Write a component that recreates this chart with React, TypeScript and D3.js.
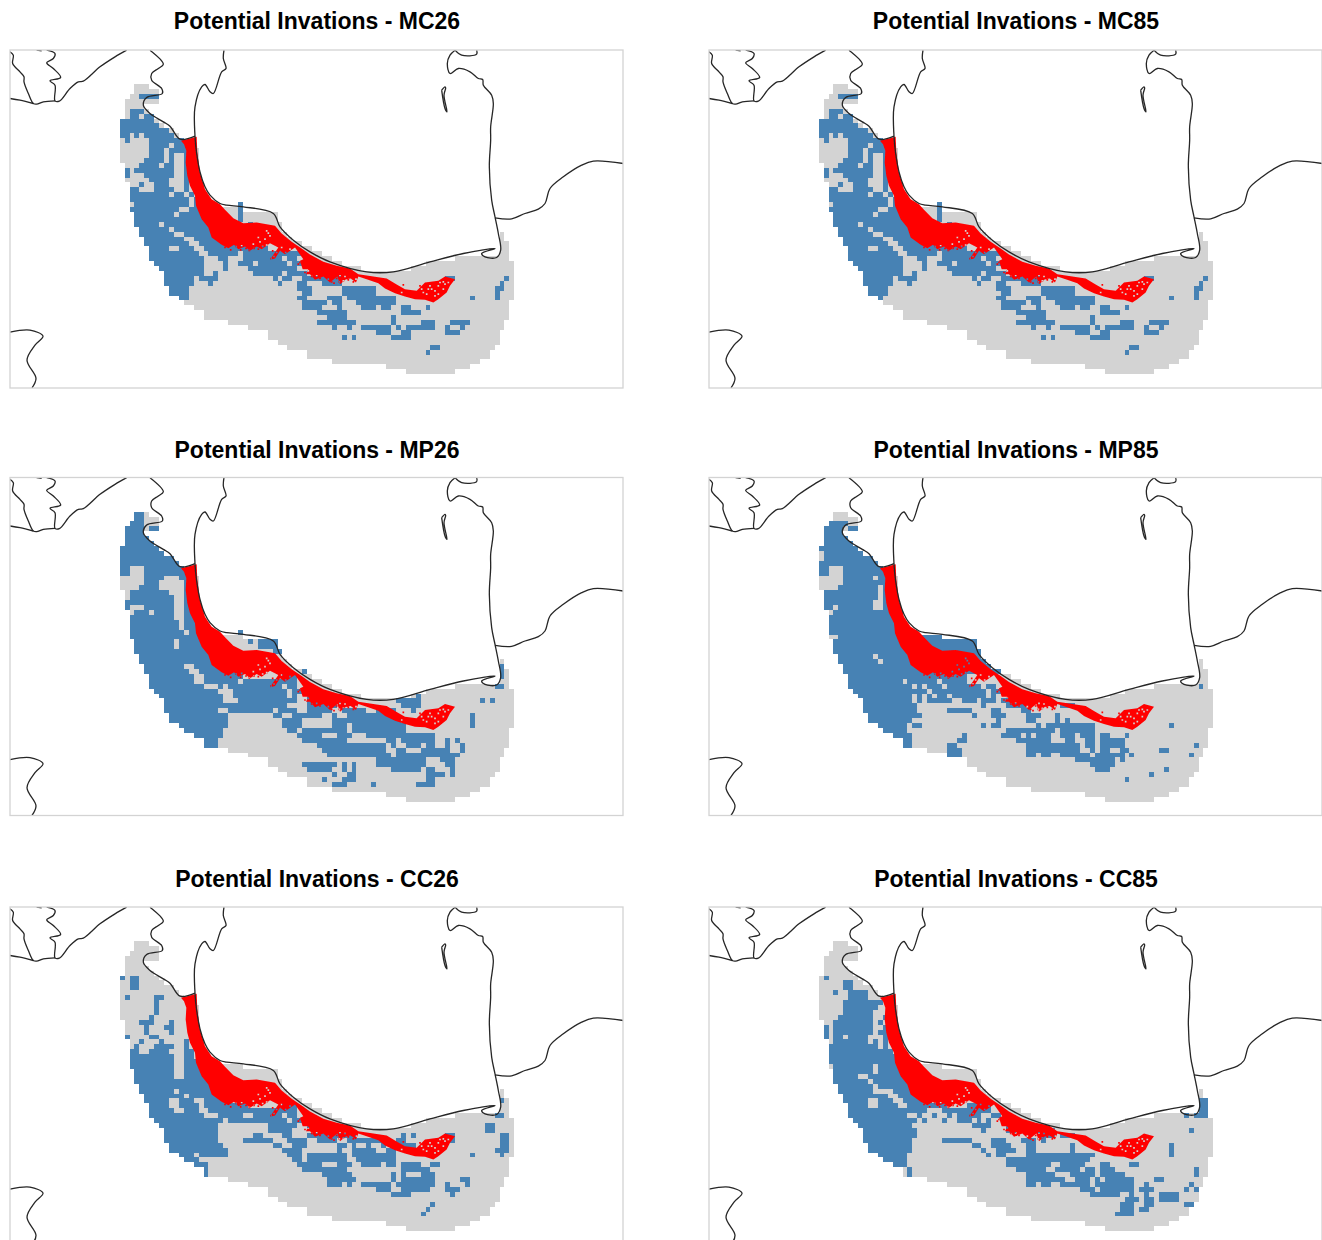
import React from "react";
import * as d3 from "d3";

const titles = ["MC26", "MC85", "MP26", "MP85", "CC26", "CC85"];

const graySpans = ["0:3-6","1:3-8","2:2-8","3:1-8","4:1-5","5:1-6","6:1-7","7:0-8","8:0-9","9:0-11","10:0-12","11:0-13","12:0-15","13:0-16","14:0-16","15:0-16","16:1-16","17:1-16","18:1-16","19:1-16","20:2-17","21:2-17","22:2-17","23:2-18","24:2-20","25:2-25","26:3-32","27:3-32","28:3-33","29:4-33","30:4-34 77-78","31:5-35 77-78","32:5-37 77-79","33:6-39 77-79","34:6-41 77-79","35:6-43 68-79","36:7-45 62-80","37:8-49 59-80","38:9-80","39:9-80","40:9-80","41:10-80","42:10-80","43:12-80","44:13-79","45:15-79","46:17-79","47:17-79","48:22-78","49:26-78","50:30-77","51:30-77","52:32-77","53:34-76","54:38-75","55:38-75","56:43-73","57:54-71","58:58-68"];

const blueMC85 = ["2:4-8","5:2-5","6:2-4 5-7","7:0-7","8:0-8","9:0-10","10:0-2 3-4 5-11","11:1-2 6-13","12:6-10 11-14","13:6-9 10-14","14:6-9 10-11 13-14","15:5-9 10-11 13-14","16:4-8 9-11 13-14","17:1-2 3-11 13-14","18:1-2 5-11 13-14","19:6-10 13-14","20:4-5 7-10 13-14","21:2-4 7-11 13-14","22:2-10 11-13 14-15","23:2-14 15-16","24:3-14 15-17 24-25","25:2-12 14-17 24-25","26:3-11 12-17 24-25","27:3-18 24-25","28:3-8 9-18 26-27","29:4-10 11-19","30:4-11 13-20","31:5-13 15-22","32:5-14 16-24","33:6-10 12-15 17-30","34:6-16 18-24 25-37","35:6-17 20-22 25-33 34-36","36:7-17 21-22 24-27 28-34 35-37","37:8-17 21-22 26-36","38:9-17 19-20 27-33 34-38","39:9-15 16-20 31-32 33-35 37-45 66-68 78-79","40:9-15 18-19 32-33 36-38 41-45 77-78","41:10-14 36-39 45-52 76-78","42:10-14 37-39 45-52 76-77","43:12-13 36-38 42-45 46-56 71-72 76-77","44:37-42 43-45 48-56","45:37-41 44-45 49-52 53-55 57-59 62-63","46:40-46 57-61","47:42-46 55-56","48:40-48 55-56 61-64 67-71","49:43-44 46-47 49-55 56-57 58-64 66-67 69-70","50:52-55 57-59 66-69","51:45-46 47-48 55-59","53:63-65","54:62-63"];

const blueMC26 = ["2:4-8","5:2-5","6:2-4 5-7","7:0-7","8:0-8","9:0-10","10:0-2 3-4 5-11","11:1-2 6-13","12:6-10 11-14","13:6-9 10-14","14:6-9 10-11 13-14","15:5-9 10-11 13-14","16:4-8 9-11 13-14","17:1-2 3-11 13-14","18:1-2 5-11 13-14","19:6-10 13-14","20:4-5 7-10 13-14","21:2-4 7-11 13-14","22:2-10 11-13 14-15","23:2-14 15-16","24:3-14 15-17 24-25","25:2-12 14-17 24-25","26:3-11 12-17 24-25","27:3-18 24-25","28:3-8 9-18 26-27","29:4-10 11-19","30:4-11 13-20","31:5-13 15-22","32:5-14 16-24","33:6-10 12-15 17-30","34:6-16 18-24 25-37","35:6-17 20-22 25-33 34-36","36:7-17 21-22 24-27 28-34 35-37","37:8-17 21-22 26-36","38:9-17 19-20 27-33 34-38","39:9-15 16-20 31-32 33-35 37-45 66-68 78-79","40:9-15 18-19 32-33 36-38 41-45 77-78","41:10-14 36-39 45-52 76-78","42:10-14 37-39 45-52 76-77","43:12-14 36-38 42-45 46-56 71-72 76-77","44:37-42 43-45 48-56","45:37-41 44-45 49-52 53-55 57-59 62-63","46:40-46 57-61","47:42-46 55-56","48:40-48 55-56 61-64 67-71","49:43-44 46-47 49-55 56-57 58-64 66-67 69-70","50:52-55 57-59 66-69","51:45-46 47-48 55-59","53:63-65","54:62-63"];

const blueMP26 = ["0:3-5","1:3-5","2:2-5","3:1-5 6-8","4:1-5","5:1-6","6:1-7","7:0-8","8:0-9","9:0-11","10:0-12","11:0-2 5-13","12:0-2 5-14","13:5-9 12-15","14:5-8 13-15","15:4-8 13-15","16:2-10 13-15","17:2-11 13-15","18:1-11 13-15","19:1-2 5-11 13-15","20:3-6 7-11 13-15","21:2-11 13-16","22:2-12 13-16","23:2-12 13-17","24:2-13 14-17 24-25","25:2-20","26:3-11 12-20 26-27 28-32","27:3-11 12-20 28-32","28:3-20 31-33","29:4-20","30:4-21","31:5-13 15-24 77-78","32:5-14 16-25 37-38 77-78","33:6-15 17-25 33-36 77-78","34:6-15 17-24 25-36","35:6-17 20-21 22-33 34-36 76-78","36:7-20 23-34 35-37","37:8-21 23-34 35-36 38-42 60-61","38:9-21 24-36 38-45 56-61 73-74 75-76","39:9-34 38-44 57-61","40:9-20 22-31 32-36 38-43 45-50 52-56 59-60","41:10-22 31-33 35-41 43-44 46-56 71-72","42:10-22 33-37 43-46 46-57 71-72","43:12-22 33-37 43-46 47-58 71-72","44:13-21 34-36 37-46 47-58","45:15-21 36-41 44-47 50-64","46:17-20 37-46 54-56 57-64 66-67 68-69","47:17-20 40-54 55-56 58-61 62-64 66-67 69-70","48:41-54 56-58 61-67 69-70","49:42-55 56-67 67-69","50:52-62 65-68","51:37-44 45-46 47-48 52-62 66-68","52:38-43 45-46 47-48 55-61 62-64 67-68","53:43-44 46-48 62-66 67-68","54:41-42 45-48 62-64","55:43-46 51-52 60-64"];

const blueMP85 = ["2:2-6","3:1-5 6-8","4:1-5","5:1-6","6:1-7","7:0-8","8:1-9","9:1-11","10:0-12","11:0-2 5-13","12:0-2 5-14","13:5-11 12-14","14:5-14","15:4-12 13-14","16:1-12 13-14","17:1-12 13-14","18:1-11 13-14","19:1-3 4-11 13-14","20:3-17","21:2-17","22:2-17","23:2-18","24:2-20","25:4-25","26:3-32","27:3-32","28:3-33","29:4-11 12-33","30:4-12 13-34","31:5-35","32:5-37","33:6-30","34:6-17 18-24 25-30","35:6-19 20-21 22-25 26-33 34-36 77-78","36:7-22 23-34 35-37","37:8-19 20-21 22-23 24-26 27-34 35-36","38:9-19 20-21 22-27 29-32 33-36 37-39","39:9-20 33-34 38-42 49-52","40:9-20 26-31 35-37 41-43","41:10-21 31-32 35-38 42-45 48-49","42:10-19 36-37 42-44 48-49 50-51","43:12-18 19-21 33-34 35-37 44-45 46-56 71-72","44:13-18 38-48 49-56","45:15-19 29-30 37-41 42-43 44-47 49-52 53-56 57-59 62-63","46:17-19 28-30 40-47 50-52 54-56 57-62","47:17-19 26-28 42-53 54-56 57-62 76-77","48:26-29 42-53 55-56 57-59 61-63 69-71","49:26-29 42-44 45-47 49-55 56-62 63-64 75-76","50:52-60 61-62","51:55-60","52:56-59 70-71","53:67-68","54:62-63"];

const blueCC26 = ["7:0-1 2-4","8:2-4","9:2-4","11:1-2 7-9","12:7-8","13:7-8","14:7-8","15:6-7","16:4-7 10-11","17:5-6 9-11","18:5-6 10-11","19:1-2 6-8","20:4-5 8-9 13-14","21:3-4 7-11 13-14","22:2-4 6-10 13-15","23:2-11 13-15","24:2-11 13-17","25:2-11 13-17","26:3-11 13-18","27:3-11 13-18","28:3-18","29:4-19","30:4-11 12-19","31:5-13 14-20","32:5-10 12-15 17-22 77-78","33:6-10 12-16 17-26 33-36","34:6-11 13-16 18-36","35:6-17 20-25 27-33 34-36 76-78","36:7-21 22-34 35-37","37:8-20 30-36 38-40 74-76","38:9-20 30-35 74-76","39:9-20 27-29 33-35 38-48 57-58 59-60 66-68 77-79","40:9-20 25-31 34-38 40-44 46-54 56-58 67-68 77-79","41:10-21 31-33 35-38 44-46 47-48 50-51 53-54 55-60 77-79","42:10-22 33-37 44-45 47-52 54-56 59-60 76-79","43:12-15 16-22 34-37 38-46 47-56 71-72 77-78","44:13-16 35-37 38-46 48-56","45:15-18 36-41 44-47 49-53 54-56 57-61 63-65","46:17-18 37-46 57-63","47:17-18 41-47 55-56 57-58 61-64","48:42-48 55-56 57-64 69-71","49:42-45 46-47 49-55 56-64 66-67 70-71","50:52-55 57-63 66-69","51:55-59 67-68","53:63-64","54:62-63","55:61-62"];

const blueCC85 = ["7:1-2","8:5-7","9:5-7","10:3-4 6-10","11:6-10","12:5-13","13:5-12","14:5-11","15:4-11 13-14","16:3-11 12-13","17:1-2 3-11 13-14","18:1-2 3-11 12-14","19:1-2 3-5 6-10 13-14","20:3-10 11-12 13-14","21:2-12 13-14","22:2-15","23:2-16","24:2-16","25:3-11 12-17","26:3-11 12-17","27:3-8 10-18","28:3-10 11-18","29:4-11 12-19","30:4-11 15-20","31:5-14 16-22","32:5-10 12-15 17-23 77-79","33:6-10 12-16 18-26 30-35 77-78 78-79","34:6-22 25-35 77-78 78-79","35:6-18 20-21 23-24 26-27 28-33 35-37 74-75 76-79","36:7-20 21-22 25-26 28-31 32-33 34-35 37-38","37:8-19 31-35 38-40","38:9-20 33-34 38-40 42-48 75-76","39:9-20 45-48 49-52","40:9-19 25-31 35-38 41-44 45-46","41:10-19 31-33 35-39 42-44 51-52 71-72","42:10-19 33-34 36-40 42-44 51-52 71-72","43:12-18 34-35 36-38 42-56 71-72","44:13-18 38-55","45:15-18 38-47 49-54 57-59 63-65","46:18-19 40-46 48-53 54-56 57-60 76-77","47:18-19 42-48 51-56 57-62 76-77","48:42-50 52-55 56-57 58-64 68-70","49:42-44 45-47 49-55 56-64 66-67 75-76","50:53-56 57-64 65-68 74-75 76-77","51:55-61 63-64 66-67 69-73","52:62-65 66-67 67-68 69-73","53:61-64 66-67 67-68 74-76","54:61-64 65-67","55:60-64"];

const blueByPanel = [blueMC26, blueMC85, blueMP26, blueMP85, blueCC26, blueCC85];

const panelLefts = [10, 709];
const panelTops = [50, 477.5, 907];
const titleYs = [29, 458, 887];

const redOutline: [number, number][] = [[213,205],[260,193],[262,240],[270,300],[285,350],[305,380],[330,395],[345,412],[370,437],[400,452],[440,450],[470,455],[495,460],[515,483],[545,508],[575,528],[600,546],[640,568],[680,580],[720,588],[745,605],[790,612],[830,618],[860,636],[885,650],[920,655],[945,630],[985,625],[1005,612],[1035,620],[1020,640],[1010,660],[985,680],[970,690],[945,682],[915,680],[885,672],[855,662],[825,648],[805,632],[770,620],[745,612],[738,630],[722,618],[708,620],[690,635],[682,612],[660,630],[640,612],[615,622],[600,605],[588,605],[595,590],[578,590],[570,565],[580,560],[555,525],[525,545],[510,535],[495,558],[480,562],[505,525],[480,512],[455,530],[440,522],[420,535],[405,522],[385,530],[372,517],[355,527],[335,517],[305,495],[295,465],[275,440],[258,400],[255,370],[240,340],[232,310],[227,270],[229,235],[222,215]];

const redSpecks: [number, number][] = [[345,525],[362,532],[378,522],[392,532],[408,528],[418,534],[432,528],[445,530],[458,522],[470,518],[488,535],[500,540],[492,552],[483,558],[515,525],[527,540],[540,530],[570,570],[565,575],[585,600],[595,595],[605,612],[620,610],[630,618],[655,620],[665,628],[672,632],[688,628],[700,625],[715,622],[730,628],[738,620],[875,660],[880,637],[930,640],[935,650],[475,482],[480,490],[470,475],[395,520],[430,515],[450,508],[465,500],[445,495],[680,618],[690,610],[705,612],[960,640],[975,655],[985,640],[1000,650],[950,665],[975,670],[990,630],[1005,635],[965,650],[985,665],[1000,628],[940,660],[955,650],[1015,630]];

const coastLines: [number, number][][] = [
  [[-300,-62],[-290,-52],[-292,-27],[-270,-2],[-258,13],[-258,28],[-245,63],[-230,93],[-220,95],[-200,88],[-165,85]],
  [[-300,78],[-270,83],[-230,93]],
  [[-220,-67],[-205,-65]],
  [[-190,-67],[-165,-57],[-170,-42],[-190,-29],[-170,-12],[-148,15],[-180,25],[-165,38],[-165,85],[-152,86],[-120,48],[-95,28],[-80,26],[-30,-17],[15,-47],[50,-67]],
  [[120,-67],[160,-25],[145,-12],[125,3],[125,23],[155,48],[157,63],[110,75],[100,98],[120,123],[160,148],[180,161],[210,200],[255,191]],
  [[342,-67],[340,-42],[348,-12],[335,-2],[310,63],[300,58],[285,36],[275,43],[255,103],[255,191],[260,243],[270,298],[285,343],[300,368],[330,393],[350,398],[400,403],[490,423],[510,463],[550,503],[600,538],[660,568],[770,598],[850,598],[960,568],[1060,543],[1155,528],[1115,543],[1125,553],[1160,555],[1172,533],[1165,483],[1155,433],[1145,383],[1138,283],[1142,203],[1142,163],[1150,93],[1145,68],[1120,38],[1118,21],[1105,18],[1080,-2],[1045,-12],[1020,3],[1012,-27],[1020,-52],[1035,-67]],
  [[1035,-67],[1055,-52],[1100,-55],[1100,-67]],
  [[995,53],[1005,43],[1007,46],[1002,68],[1011,118],[1005,108],[995,53]],
  [[1155,436],[1205,439],[1245,423],[1285,410],[1305,393],[1320,348],[1360,313],[1415,278],[1450,266],[1540,273]],
  [[-300,779],[-240,773],[-201,791],[-225,818],[-249,863],[-222,917],[-234,946]],
];

const xMap = d3.scaleLinear().domain([-300, 1539]).range([0, 613]);
const yMap = d3.scaleLinear().domain([-67.5, 946.5]).range([0, 338]);
const colX = d3.scaleLinear().domain([0, 80]).range([29, 1213]);
const rowY = d3.scaleLinear().domain([0, 59]).range([34.75, 905]);

function spansPath(rows: string[]) {
  const p = d3.path();
  rows.forEach((line) => {
    const [rowText, spans] = line.split(":");
    const r = +rowText;
    spans.split(" ").forEach((s) => {
      const [a, b] = s.split("-").map(Number);
      const x0 = xMap(colX(a)), x1 = xMap(colX(b));
      const y0 = yMap(rowY(r)), y1 = yMap(rowY(r + 1));
      p.rect(x0, y0, x1 - x0, y1 - y0);
    });
  });
  return p.toString();
}

const coastLine = d3.line<[number, number]>().x((d) => xMap(d[0])).y((d) => yMap(d[1])).curve(d3.curveCatmullRom.alpha(0.5));
const redLine = d3.line<[number, number]>().x((d) => xMap(d[0])).y((d) => yMap(d[1])).curve(d3.curveLinearClosed);

function speckPath() {
  const p = d3.path();
  redSpecks.forEach(([x, y]) => {
    p.rect(xMap(x - 2.5), yMap(y - 2.5), xMap(x + 2.5) - xMap(x - 2.5), yMap(y + 2.5) - yMap(y - 2.5));
  });
  return p.toString();
}

const grayPath = spansPath(graySpans);
const redPath = (redLine(redOutline) as string) + speckPath();

export default function App() {
  return (
    <svg width={1322} height={1240} style={{ position: "absolute", left: 0, top: 0, background: "#fff" }}>
      <defs>
        <clipPath id="panelClip"><rect x={0} y={0} width={613} height={338} /></clipPath>
        <filter id="soft" x="-2%" y="-2%" width="104%" height="104%"><feGaussianBlur stdDeviation="0.45" /></filter>
      </defs>
      {titles.map((t, i) => {
        const cx = panelLefts[i % 2];
        const cy = panelTops[Math.floor(i / 2)];
        return (
          <g key={t}>
            <text x={cx + 307} y={titleYs[Math.floor(i / 2)]} textAnchor="middle" fontFamily="'Liberation Sans', Arial, sans-serif" fontWeight="bold" fontSize={23} fill="#000">
              {"Potential Invations - " + t}
            </text>
            <g transform={`translate(${cx},${cy})`}>
              <g clipPath="url(#panelClip)">
                <g filter="url(#soft)">
                  <path d={grayPath} fill="#D3D3D3" shapeRendering="crispEdges" />
                  <path d={spansPath(blueByPanel[i])} fill="#4682B4" shapeRendering="crispEdges" />
                  <path d={redPath} fill="#FF0000" fillRule="evenodd" />
                  {coastLines.map((c, k) => (
                    <path key={k} d={coastLine(c) as string} fill="none" stroke="#262626" strokeWidth={1.3} />
                  ))}
                </g>
              </g>
              <rect x={0} y={0} width={613} height={338} fill="none" stroke="#D3D3D3" strokeWidth={1.3} />
            </g>
          </g>
        );
      })}
    </svg>
  );
}
